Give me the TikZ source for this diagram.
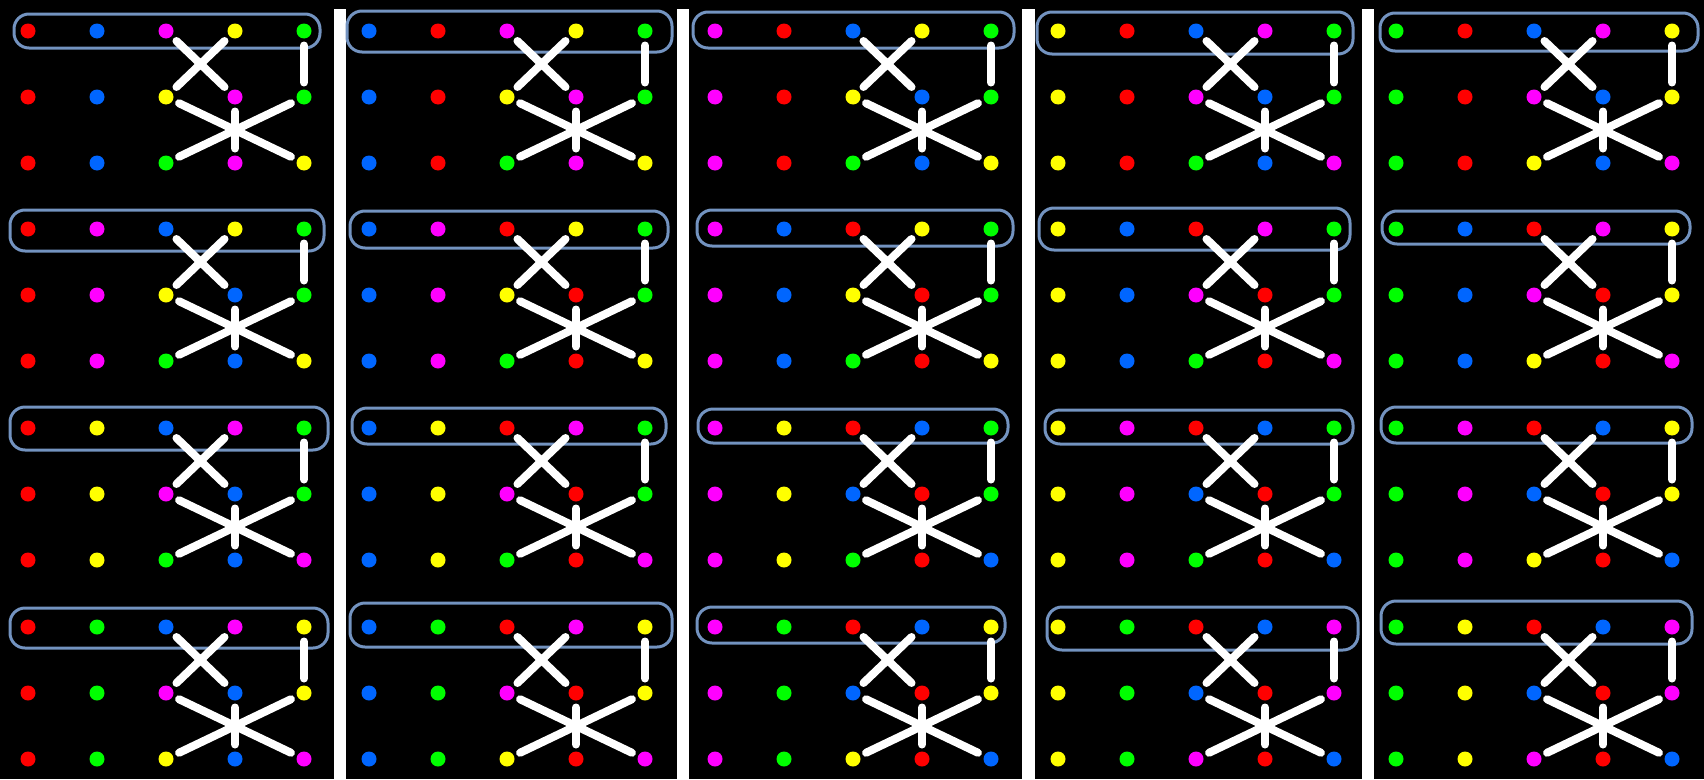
\documentclass[tikz,border=0pt]{standalone}
\usepackage{xcolor}
\usepackage{tikz}
\definecolor{dred}{HTML}{FF0000}
\definecolor{dblue}{HTML}{0066FF}
\definecolor{dmag}{HTML}{FF00FF}
\definecolor{dyel}{HTML}{FFFF00}
\definecolor{dgrn}{HTML}{00FF00}
\definecolor{bandblue}{HTML}{7393C0}
\tikzset{
  bead/.style={circle, minimum size=15pt, inner sep=0pt, outer sep=0pt},
  link/.style={draw=white, line width=8pt, line cap=round, shorten <=7pt, shorten >=7pt},
  band/.style={draw=bandblue, line width=3pt, rounded corners=15pt}
}

\begin{document}
\begin{tikzpicture}[x=1pt, y=-1pt]
\fill[black] (0,0) rectangle (1704,779);
\fill[white] (334,9) rectangle (346,779);
\fill[white] (677,9) rectangle (689,779);
\fill[white] (1022,9) rectangle (1035,779);
\fill[white] (1362,9) rectangle (1374,779);
\foreach \pn/\bn/\px/\py/\ca/\cb/\cc/\cd/\ce/\xa/\ya/\xb/\yb in {
  1/1/28/31/dred/dblue/dmag/dyel/dgrn/14/14/320/48,
  1/2/28/229/dred/dmag/dblue/dyel/dgrn/10/210/324/251,
  1/3/28/428/dred/dyel/dblue/dmag/dgrn/10/407/328/450,
  1/4/28/627/dred/dgrn/dblue/dmag/dyel/10/608/328/648,
  2/1/369/31/dblue/dred/dmag/dyel/dgrn/347/11/672/52,
  2/2/369/229/dblue/dmag/dred/dyel/dgrn/350/211/668/248,
  2/3/369/428/dblue/dyel/dred/dmag/dgrn/352/408/666/444,
  2/4/369/627/dblue/dgrn/dred/dmag/dyel/350/603/672/647,
  3/1/715/31/dmag/dred/dblue/dyel/dgrn/693/12/1014/48,
  3/2/715/229/dmag/dblue/dred/dyel/dgrn/697/210/1013/246,
  3/3/715/428/dmag/dyel/dred/dblue/dgrn/698/409/1008/443,
  3/4/715/627/dmag/dgrn/dred/dblue/dyel/697/607/1005/643,
  4/1/1058/31/dyel/dred/dblue/dmag/dgrn/1037/12/1353/54,
  4/2/1058/229/dyel/dblue/dred/dmag/dgrn/1039/208/1350/250,
  4/3/1058/428/dyel/dmag/dred/dblue/dgrn/1045/410/1353/444,
  4/4/1058/627/dyel/dgrn/dred/dblue/dmag/1047/607/1358/650,
  5/1/1396/31/dgrn/dred/dblue/dmag/dyel/1380/13/1698/51,
  5/2/1396/229/dgrn/dblue/dred/dmag/dyel/1382/211/1690/244,
  5/3/1396/428/dgrn/dmag/dred/dblue/dyel/1381/407/1692/443,
  5/4/1396/627/dgrn/dyel/dred/dblue/dmag/1381/601/1692/644}{
  \draw[band] (\xa,\ya) rectangle (\xb,\yb);
  \foreach \cn/\cl in {1/\ca,2/\cb,3/\cc,4/\cd,5/\ce}
    \node[bead, fill=\cl] (\pn\bn-t\cn) at ({\px+69*(\cn-1)},\py) {};
  \foreach \cn/\cl in {1/\ca,2/\cb,3/\cd,4/\cc,5/\ce}
    \node[bead, fill=\cl] (\pn\bn-m\cn) at ({\px+69*(\cn-1)},{\py+66}) {};
  \foreach \cn/\cl in {1/\ca,2/\cb,3/\ce,4/\cc,5/\cd}
    \node[bead, fill=\cl] (\pn\bn-b\cn) at ({\px+69*(\cn-1)},{\py+132}) {};
  \draw[link] (\pn\bn-t3) -- (\pn\bn-m4);
  \draw[link] (\pn\bn-t4) -- (\pn\bn-m3);
  \draw[link] (\pn\bn-t5) -- (\pn\bn-m5);
  \draw[link] (\pn\bn-m3) -- (\pn\bn-b5);
  \draw[link] (\pn\bn-m5) -- (\pn\bn-b3);
  \draw[link] (\pn\bn-m4) -- (\pn\bn-b4);
}
\end{tikzpicture}
\end{document}
